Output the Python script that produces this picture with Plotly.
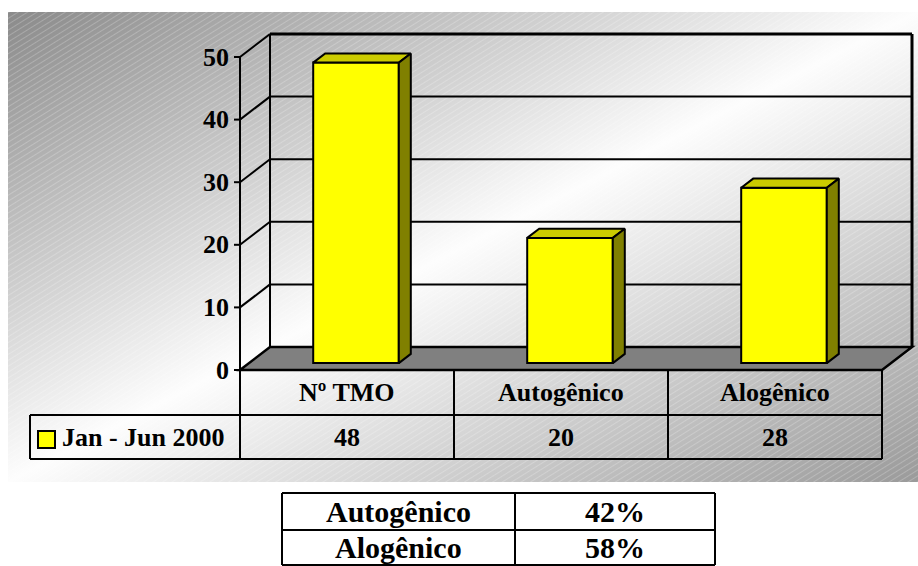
import base64
import plotly.graph_objects as go

# ---- data -------------------------------------------------------------
categories = ["Nº TMO", "Autogênico", "Alogênico"]
values = [48, 20, 28]
series_name = "Jan - Jun 2000"
y_ticks = [0, 10, 20, 30, 40, 50]
share_labels = ["Autogênico", "Alogênico"]
share_values = ["42%", "58%"]

# ---- geometry ---------------------------------------------------------
W, H = 918, 566
FX0, FX1 = 240, 882          # pixel x of category -0.5 and 2.5 on the front plane
FY0, FY50 = 370, 57          # pixel y of value 0 and 50 on the front plane
UX = (FX1 - FX0) / len(categories)
UY = (FY0 - FY50) / 50.0
DX = 30 / UX                 # depth of the 3-D box in x data units
DY = 23 / UY                 # depth of the 3-D box in y data units
BAR_W = 0.4
D0, D1 = 0.3, 0.7            # bar position inside the depth

FONT = "Liberation Serif"
BLACK = "#000000"


def xdata(px):
    return -0.5 + (px - FX0) / UX


def ydata(py):
    return (FY0 - py) / UY


def xp(px):
    return px / W


def yp(py):
    return 1 - py / H


# ---- background: diagonal grey-white-grey gradient with fine hatching --
BG_X0, BG_Y0, BG_X1, BG_Y1 = 8, 12, 918, 482
svg = f"""<svg xmlns='http://www.w3.org/2000/svg' width='{BG_X1-BG_X0}' height='{BG_Y1-BG_Y0}'>
<defs>
<linearGradient id='g' x1='0' y1='0' x2='1' y2='1'>
<stop offset='0' stop-color='#8a8a8a'/>
<stop offset='0.5' stop-color='#fdfdfd'/>
<stop offset='1' stop-color='#9a9a9a'/>
</linearGradient>
<pattern id='p' width='5' height='5' patternUnits='userSpaceOnUse' patternTransform='rotate(-32)'>
<rect x='0' y='0' width='5' height='1' fill='#ffffff' fill-opacity='0.22'/>
</pattern>
</defs>
<rect width='100%' height='100%' fill='url(#g)'/>
<rect width='100%' height='100%' fill='url(#p)'/>
</svg>"""
bg_src = "data:image/svg+xml;base64," + base64.b64encode(svg.encode()).decode()

fig = go.Figure()

# ---- walls, floor and gridlines (below the bars) ----------------------
shapes = []
xl, xr = -0.5, len(categories) - 0.5
line_style = dict(color=BLACK, width=2)

# floor
shapes.append(dict(
    type="path", xref="x", yref="y", layer="below",
    path=f"M {xl},0 L {xl+DX},{DY} L {xr+DX},{DY} L {xr},0 Z",
    fillcolor="#808080", line=dict(color=BLACK, width=2.5),
))
# back wall frame
shapes.append(dict(type="line", xref="x", yref="y", layer="below",
                   x0=xl + DX, y0=DY, x1=xl + DX, y1=50 + DY, line=line_style))
shapes.append(dict(type="line", xref="x", yref="y", layer="below",
                   x0=xr + DX, y0=DY, x1=xr + DX, y1=50 + DY, line=dict(color=BLACK, width=3)))
shapes.append(dict(type="line", xref="x", yref="y", layer="below",
                   x0=xl + DX, y0=50 + DY, x1=xr + DX, y1=50 + DY, line=dict(color=BLACK, width=3)))
# gridlines on the back wall and their continuation on the side wall
for v in y_ticks[1:]:
    if v < 50:
        shapes.append(dict(type="line", xref="x", yref="y", layer="below",
                           x0=xl + DX, y0=v + DY, x1=xr + DX, y1=v + DY, line=line_style))
    shapes.append(dict(type="line", xref="x", yref="y", layer="below",
                       x0=xl, y0=v, x1=xl + DX, y1=v + DY, line=line_style))
# front value axis and its ticks
shapes.append(dict(type="line", xref="x", yref="y", layer="below",
                   x0=xl, y0=0, x1=xl, y1=50, line=line_style))
for v in y_ticks:
    shapes.append(dict(type="line", xref="x", yref="y", layer="below",
                       x0=xl - 6 / UX, y0=v, x1=xl, y1=v, line=line_style))

# ---- 3-D bars ---------------------------------------------------------
xs = list(range(len(categories)))
fig.add_trace(go.Bar(
    x=[i + D0 * DX for i in xs], y=values, base=[D0 * DY] * len(values),
    width=BAR_W, marker=dict(color="#FFFF00", line=dict(color=BLACK, width=2)),
    name=series_name, hoverinfo="skip",
))
for i, v in zip(xs, values):
    fx = i + D0 * DX
    bx = i + D1 * DX
    # top face
    fig.add_trace(go.Scatter(
        x=[fx - BAR_W / 2, fx + BAR_W / 2, bx + BAR_W / 2, bx - BAR_W / 2, fx - BAR_W / 2],
        y=[v + D0 * DY, v + D0 * DY, v + D1 * DY, v + D1 * DY, v + D0 * DY],
        mode="lines", fill="toself", fillcolor="#CCCC00",
        line=dict(color=BLACK, width=2), hoverinfo="skip", showlegend=False,
    ))
    # right side face
    fig.add_trace(go.Scatter(
        x=[fx + BAR_W / 2, bx + BAR_W / 2, bx + BAR_W / 2, fx + BAR_W / 2, fx + BAR_W / 2],
        y=[D0 * DY, D1 * DY, v + D1 * DY, v + D0 * DY, D0 * DY],
        mode="lines", fill="toself", fillcolor="#808000",
        line=dict(color=BLACK, width=2), hoverinfo="skip", showlegend=False,
    ))

annotations = []
txt = dict(family=FONT, size=26, color=BLACK, weight="bold")

# value axis labels
for v in y_ticks:
    annotations.append(dict(xref="paper", yref="y", x=xp(231), y=v, text=str(v),
                            showarrow=False, xanchor="right", yanchor="middle", font=txt))

# ---- data table under the plot ----------------------------------------
T_TOP, T_MID, T_BOT, T_LEFT = 370, 415, 459, 30
col_edges = [FX0 + k * UX for k in range(len(categories) + 1)]
tbl_line = dict(color=BLACK, width=2)


def pline(x0, y0, x1, y1, width=2):
    shapes.append(dict(type="line", xref="paper", yref="paper",
                       x0=xp(x0), y0=yp(y0), x1=xp(x1), y1=yp(y1),
                       line=dict(color=BLACK, width=width)))


pline(FX0, T_TOP, FX1, T_TOP)
pline(T_LEFT, T_MID, FX1, T_MID)
pline(T_LEFT, T_BOT, FX1, T_BOT)
pline(T_LEFT, T_MID, T_LEFT, T_BOT)
for e in col_edges:
    pline(e, T_TOP, e, T_BOT)

for k, (c, v) in enumerate(zip(categories, values)):
    cx = (col_edges[k] + col_edges[k + 1]) / 2
    annotations.append(dict(xref="paper", yref="paper", x=xp(cx), y=yp((T_TOP + T_MID) / 2),
                            text=c, showarrow=False, xanchor="center", yanchor="middle", font=txt))
    annotations.append(dict(xref="paper", yref="paper", x=xp(cx), y=yp((T_MID + T_BOT) / 2),
                            text=str(v), showarrow=False, xanchor="center", yanchor="middle", font=txt))

# legend key in the data table
shapes.append(dict(type="rect", xref="paper", yref="paper",
                   x0=xp(38), y0=yp(431), x1=xp(55), y1=yp(448),
                   fillcolor="#FFFF00", line=dict(color=BLACK, width=2)))
annotations.append(dict(xref="paper", yref="paper", x=xp(60), y=yp((T_MID + T_BOT) / 2),
                        text=series_name, showarrow=False, xanchor="left", yanchor="middle", font=txt))

# ---- share table ------------------------------------------------------
S_X = [282, 515, 715]
S_Y = [493, 530, 565]
for yy in S_Y:
    pline(S_X[0], yy, S_X[-1], yy)
for xx in S_X:
    pline(xx, S_Y[0], xx, S_Y[-1])
big = dict(family=FONT, size=30, color=BLACK, weight="bold")
for r, (lab, val) in enumerate(zip(share_labels, share_values)):
    cy = (S_Y[r] + S_Y[r + 1]) / 2
    annotations.append(dict(xref="paper", yref="paper", x=xp((S_X[0] + S_X[1]) / 2), y=yp(cy),
                            text=lab, showarrow=False, xanchor="center", yanchor="middle", font=big))
    annotations.append(dict(xref="paper", yref="paper", x=xp((S_X[1] + S_X[2]) / 2), y=yp(cy),
                            text=val, showarrow=False, xanchor="center", yanchor="middle", font=big))

fig.update_layout(
    width=W, height=H, autosize=False,
    margin=dict(l=0, r=0, t=0, b=0, pad=0),
    paper_bgcolor="#ffffff", plot_bgcolor="rgba(0,0,0,0)",
    showlegend=False,
    xaxis=dict(visible=False, range=[xdata(0), xdata(W)], domain=[0, 1], fixedrange=True),
    yaxis=dict(visible=False, range=[ydata(H), ydata(0)], domain=[0, 1], fixedrange=True),
    shapes=shapes,
    annotations=annotations,
    images=[dict(source=bg_src, xref="paper", yref="paper",
                 x=xp(BG_X0), y=yp(BG_Y0), sizex=(BG_X1 - BG_X0) / W, sizey=(BG_Y1 - BG_Y0) / H,
                 xanchor="left", yanchor="top", sizing="stretch", layer="below")],
)

fig.write_html("out.html")
